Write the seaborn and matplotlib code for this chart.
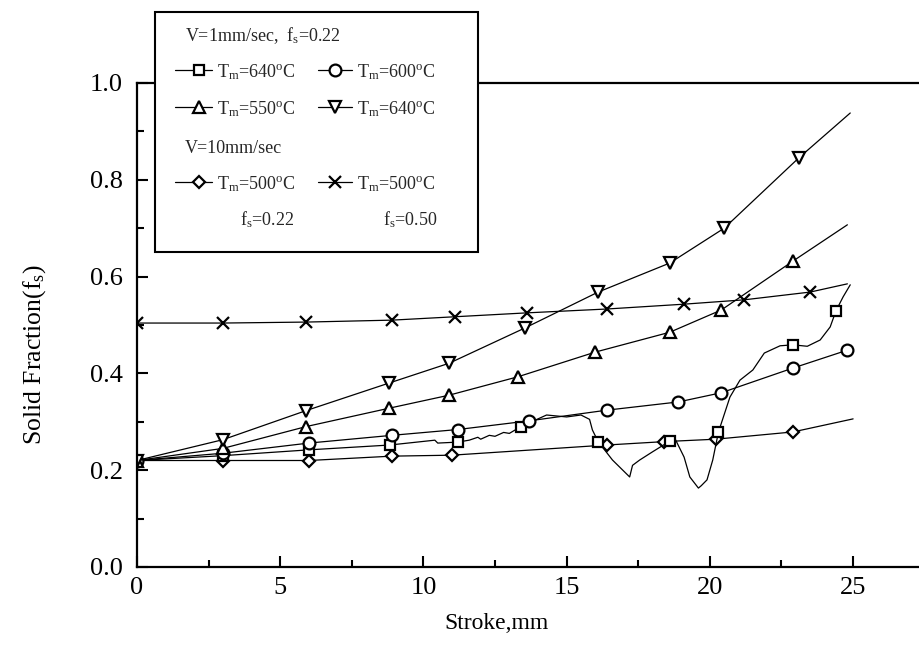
import matplotlib
matplotlib.use("Agg")
import matplotlib.pyplot as plt
import matplotlib.patches as mpatches
from matplotlib.ticker import MultipleLocator
import seaborn as sns

# stroke (mm) vs solid fraction
# V=1mm/sec, fs=0.22
sq_x = [0, 3.0, 6.0, 8.83, 10.4, 10.5, 11.2, 11.6, 11.9, 12.0, 12.3, 12.5, 12.8, 13.0, 13.4,
        14.3, 15.0, 15.5, 15.8, 15.9, 16.1, 16.6, 17.2, 17.3, 17.55, 18.0, 18.6, 18.8, 19.1,
        19.3, 19.6, 19.7, 19.9, 20.1, 20.3, 20.7, 21.05, 21.5, 21.9, 22.45, 22.9, 23.4, 23.85,
        24.2, 24.4, 24.65, 24.9]
sq_y = [0.22, 0.23, 0.242, 0.252, 0.262, 0.256, 0.258, 0.262, 0.268, 0.264, 0.272, 0.27, 0.278,
        0.276, 0.29, 0.314, 0.31, 0.314, 0.305, 0.283, 0.259, 0.221, 0.186, 0.21, 0.221, 0.238,
        0.26, 0.263, 0.227, 0.186, 0.163, 0.168, 0.18, 0.221, 0.279, 0.351, 0.386, 0.407, 0.442,
        0.457, 0.459, 0.456, 0.469, 0.496, 0.529, 0.558, 0.583]
sq_marks_at = [0, 3.0, 6.0, 8.83, 11.2, 13.4, 16.1, 18.6, 20.3, 22.9, 24.4]

circ_x = [0, 3.0, 6.0, 8.9, 11.2, 13.7, 16.4, 18.9, 20.4, 22.9, 24.8]
circ_y = [0.22, 0.235, 0.256, 0.272, 0.284, 0.302, 0.324, 0.341, 0.36, 0.411, 0.448]

tup_x = [0, 3.0, 5.9, 8.8, 10.9, 13.3, 16.0, 18.6, 20.4, 22.9, 24.8]
tup_y = [0.22, 0.245, 0.29, 0.328, 0.355, 0.393, 0.444, 0.485, 0.531, 0.632, 0.707]

tdn_x = [0, 3.0, 5.9, 8.8, 10.9, 13.55, 16.1, 18.6, 20.5, 23.1, 24.9]
tdn_y = [0.22, 0.263, 0.323, 0.38, 0.421, 0.494, 0.568, 0.628, 0.70, 0.845, 0.938]

# V=10mm/sec
dia_x = [0, 3.0, 6.0, 8.9, 11.0, 16.4, 18.4, 20.2, 22.9, 25.0]
dia_y = [0.22, 0.22, 0.22, 0.229, 0.231, 0.252, 0.259, 0.264, 0.279, 0.306]

crs_x = [0, 3.0, 5.9, 8.9, 11.1, 13.6, 16.4, 19.1, 21.2, 23.5, 24.8]
crs_y = [0.504, 0.504, 0.506, 0.51, 0.517, 0.525, 0.533, 0.543, 0.552, 0.568, 0.585]

x_ticks = [0, 5, 10, 15, 20, 25]
y_ticks = [0.0, 0.2, 0.4, 0.6, 0.8, 1.0]

sns.set_theme(style="white")
plt.rcParams["font.family"] = ["Liberation Serif", "DejaVu Serif"]
plt.rcParams["mathtext.fontset"] = "custom"
plt.rcParams["mathtext.rm"] = "Liberation Serif"
plt.rcParams["mathtext.it"] = "Liberation Serif:italic"

fig = plt.figure(figsize=(9.19, 6.56), dpi=100)
ax = fig.add_axes([0.149, 0.1357, 0.851, 0.7378])


def draw(x, y, marker, size, marks):
    sns.lineplot(x=x, y=y, ax=ax, color="black", linewidth=0.9, sort=False, estimator=None,
                 marker=marker, markersize=size, markevery=marks,
                 markerfacecolor="white", markeredgecolor="black", markeredgewidth=1.6)


draw(dia_x, dia_y, "D", 6.5, list(range(len(dia_x) - 1)))
draw(crs_x, crs_y, "x", 8.5, list(range(len(crs_x) - 1)))
draw(sq_x, sq_y, "s", 7, [sq_x.index(v) for v in sq_marks_at])
draw(circ_x, circ_y, "o", 8.5, list(range(len(circ_x))))
draw(tup_x, tup_y, "^", 9, list(range(len(tup_x) - 1)))
draw(tdn_x, tdn_y, "v", 9, list(range(len(tdn_x) - 1)))

ax.set_xlim(0, 27.3)
ax.set_ylim(0, 1.0)
ax.set_xticks(x_ticks)
ax.set_yticks(y_ticks)
ax.set_yticklabels([f"{v:.1f}" for v in y_ticks])
ax.xaxis.set_minor_locator(MultipleLocator(2.5))
ax.yaxis.set_minor_locator(MultipleLocator(0.1))
ax.tick_params(which="both", direction="in", width=1.5, colors="black", labelsize=19,
               bottom=True, left=True, top=False, right=False)
ax.tick_params(which="major", length=8)
ax.tick_params(which="minor", length=5)
ax.tick_params(axis="y", pad=10)
ax.tick_params(axis="x", pad=7)
for side in ["left", "bottom", "top"]:
    ax.spines[side].set_color("black")
    ax.spines[side].set_linewidth(1.6)
ax.spines["right"].set_visible(False)

ax.set_xlabel("Stroke,mm", fontsize=17, color="black")
ax.set_ylabel("Solid Fraction(f$_\\mathrm{s}$)", fontsize=18.5, color="black")
ax.xaxis.set_label_coords(0.46, -0.095)
ax.yaxis.set_label_coords(-0.114, 0.44)

# legend box, drawn by hand to keep the two-column layout with text rows
box = mpatches.Rectangle((0.023, 0.651), 0.413, 0.496, transform=ax.transAxes,
                         facecolor="white", edgecolor="black", linewidth=1.5,
                         clip_on=False, zorder=5)
ax.add_patch(box)

fs = 13
rows = [1.103, 1.027, 0.951, 0.868, 0.795, 0.723]
entries = [
    (0.0486, 0.0959, 0.0793, rows[1], "s", 7, "T$_\\mathrm{m}$=640$^\\mathrm{o}$C"),
    (0.2315, 0.2749, 0.2532, rows[1], "o", 8.5, "T$_\\mathrm{m}$=600$^\\mathrm{o}$C"),
    (0.0486, 0.0959, 0.0793, rows[2], "^", 9, "T$_\\mathrm{m}$=550$^\\mathrm{o}$C"),
    (0.2315, 0.2749, 0.2532, rows[2], "v", 9, "T$_\\mathrm{m}$=640$^\\mathrm{o}$C"),
    (0.0486, 0.0959, 0.0793, rows[4], "D", 6.5, "T$_\\mathrm{m}$=500$^\\mathrm{o}$C"),
    (0.2315, 0.2749, 0.2532, rows[4], "x", 8.5, "T$_\\mathrm{m}$=500$^\\mathrm{o}$C"),
]
for x0, x1, xm, yy, mk, ms, lab in entries:
    ax.plot([x0, x1], [yy, yy], color="black", linewidth=0.9, transform=ax.transAxes,
            clip_on=False, zorder=6)
    ax.plot([xm], [yy], marker=mk, markersize=ms, markerfacecolor="white",
            markeredgecolor="black", markeredgewidth=1.6, linestyle="none",
            transform=ax.transAxes, clip_on=False, zorder=7)
    ax.text(x1 + 0.006, yy, lab, fontsize=fs, va="center_baseline", ha="left",
            transform=ax.transAxes, zorder=7)

ax.text(0.0614, rows[0], "V=1mm/sec,  f$_\\mathrm{s}$=0.22", fontsize=fs, va="center_baseline",
        transform=ax.transAxes, zorder=7)
ax.text(0.0614, rows[3], "V=10mm/sec", fontsize=fs, va="center_baseline",
        transform=ax.transAxes, zorder=7)
ax.text(0.1317, rows[5], "f$_\\mathrm{s}$=0.22", fontsize=fs, va="center_baseline",
        transform=ax.transAxes, zorder=7)
ax.text(0.3146, rows[5], "f$_\\mathrm{s}$=0.50", fontsize=fs, va="center_baseline",
        transform=ax.transAxes, zorder=7)

fig.savefig("out.png", dpi=100, facecolor="white")
